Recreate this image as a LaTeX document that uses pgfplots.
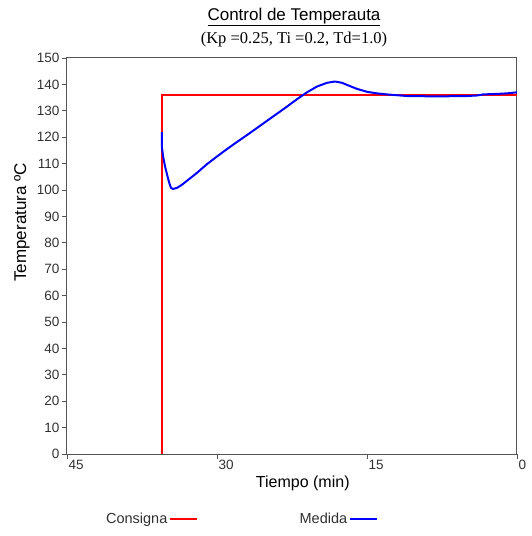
\documentclass[border=0pt]{standalone}
\usepackage{pgfplots}
\pgfplotsset{compat=1.18}
\usepackage{fontspec}
\setmainfont{Liberation Sans}
\newfontfamily\seriffont{Liberation Serif}
\definecolor{axgray}{HTML}{555555}
\definecolor{txtgray}{HTML}{303030}
\begin{document}
\begin{tikzpicture}
\useasboundingbox (0pt,0pt) rectangle (531pt,536pt);
\begin{axis}[
  at={(67pt,82pt)}, anchor=south west,
  scale only axis, width=450pt, height=396pt,
  x dir=reverse,
  xmin=0, xmax=45, ymin=0, ymax=150,
  xtick={45,30,15,0}, ytick={0,10,...,150},
  xtick pos=bottom, ytick pos=left,
  tick align=outside, major tick length=5pt,
  axis line style={axgray, line width=1pt},
  every tick/.style={axgray, line width=0.8pt},
  /pgf/number format/assume math mode=true,
  tick label style={font=\fontsize{13.5}{15}\selectfont, text=txtgray},
  xticklabel style={anchor=north west, xshift=-2pt, yshift=2pt},
  yticklabel style={xshift=1pt},
  title={\underline{Control de Temperauta}\\[3pt]{\seriffont\fontsize{16.5}{18}\selectfont (Kp =0.25, Ti =0.2, Td=1.0)}},
  title style={font=\fontsize{17}{20}\selectfont, align=center, at={(0.5,1)}, anchor=south, inner sep=0pt, yshift=5pt, xshift=2pt},
  xlabel={Tiempo (min)},
  xlabel style={font=\fontsize{16}{18}\selectfont, at={(axis description cs:0.524,-0.073)}, anchor=center},
  ylabel={Temperatura \textordmasculine C},
  ylabel style={font=\fontsize{17}{19}\selectfont, at={(axis description cs:-0.1,0.585)}, anchor=center},
  legend plot pos=right,
  legend columns=2,
  legend style={at={(0.387,-0.164)}, anchor=center, draw=none, fill=none,
    font=\fontsize{14.5}{16}\selectfont, text=txtgray,
    /tikz/every even column/.append style={column sep=100pt}},
  legend image code/.code={\draw[#1] (0pt,0pt) -- (27pt,0pt);},
]
\addplot[red, line width=1.3pt] coordinates {(35.5,0) (35.5,136) (0,136)};
\addlegendentry{Consigna}
\addplot[blue, line width=2pt, line join=round] coordinates {
(35.5,122) (35.5,116) (35.4,113) (35.2,109) (35.0,106) (34.8,103) (34.6,100.8)
(34.4,100.4) (34.0,100.8) (33.5,102) (33.0,103.5) (32.0,106.5) (31.0,109.8)
(30.0,112.7) (29.0,115.5) (28.0,118.2) (27.0,120.8) (26.0,123.5) (25.0,126.2)
(24.0,128.9) (23.0,131.6) (22.0,134.4) (21.0,137) (20.0,139.2) (19.0,140.6)
(18.2,141.1) (17.5,140.6) (17.0,139.8) (16.0,138.3) (15.0,137.2) (14.0,136.6)
(13.0,136.2) (12.0,135.9) (11.0,135.6) (9.0,135.5) (7.0,135.5) (5.0,135.6)
(4.0,135.8) (3.4,136.2) (2.0,136.4) (1.0,136.6) (0.0,137.0)};
\addlegendentry{Medida}
\end{axis}
\end{tikzpicture}
\end{document}
